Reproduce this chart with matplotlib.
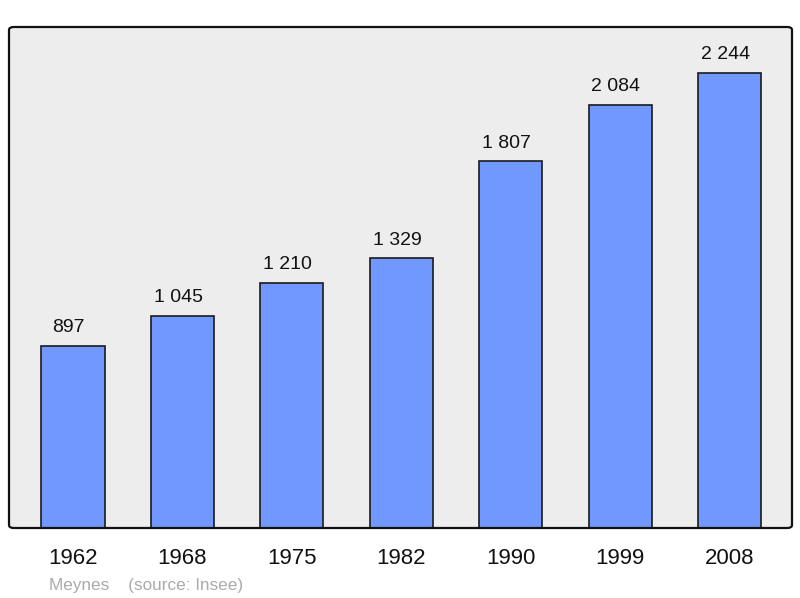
import matplotlib.pyplot as plt
from matplotlib.patches import FancyBboxPatch

plt.rcParams['font.family'] = ['Liberation Sans', 'DejaVu Sans']

years = ['1962', '1968', '1975', '1982', '1990', '1999', '2008']
population = [897, 1045, 1210, 1329, 1807, 2084, 2244]
labels = ['897', '1 045', '1 210', '1 329', '1 807', '2 084', '2 244']

fig = plt.figure(figsize=(8, 5.98), dpi=100)
ax = fig.add_axes([9 / 800, 70 / 598, 783 / 800, 501 / 598])
ax.set_facecolor('#ededed')

x = range(len(years))
ax.bar(x, population, width=0.576, color='#7098ff', edgecolor='#1a1a1a',
       linewidth=1.2, zorder=2)

for i, (v, lab) in enumerate(zip(population, labels)):
    ax.annotate(lab, (i, v), xytext=(-3, 10), textcoords='offset points',
                ha='center', va='baseline', fontsize=14, color='#111111')

ax.set_xlim(-0.585, 6.572)
ax.set_ylim(0, 2470)
ax.set_xticks([])
ax.set_yticks([])
for s in ax.spines.values():
    s.set_visible(False)

# rounded frame
frame = FancyBboxPatch((0, 0), 1, 1, boxstyle='round,pad=0,rounding_size=0.006',
                       transform=ax.transAxes, facecolor='none',
                       edgecolor='#111111', linewidth=1.6, zorder=5,
                       clip_on=False)
ax.add_patch(frame)

for i, yr in enumerate(years):
    ax.text(i, -36 / 501 * 2470, yr, ha='center', va='baseline',
            fontsize=16, color='#111111')

fig.text(49 / 800, 1 - 590 / 598, 'Meynes    (source: Insee)', ha='left',
         va='baseline', fontsize=12.3, color='#aaaaaa')

fig.savefig('out.png', dpi=100)
